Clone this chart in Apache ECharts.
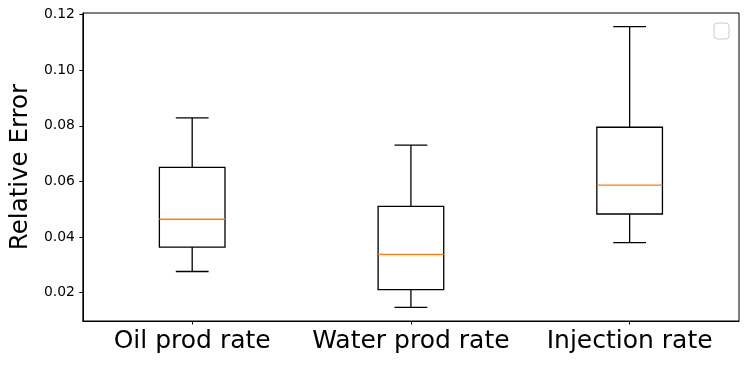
<!DOCTYPE html>
<html>
<head>
<meta charset="utf-8">
<script src="https://cdn.jsdelivr.net/npm/echarts@6/dist/echarts.min.js"></script>
<style>
  html, body { margin: 0; padding: 0; background: #fff; }
  #main { width: 749px; height: 365px; }
</style>
</head>
<body>
<div id="main"></div>
<script>
// categories and box statistics
const categories = ['Oil prod rate', 'Water prod rate', 'Injection rate'];
const whiskerLow = [0.0276, 0.0147, 0.0380];
const q1 = [0.0364, 0.0211, 0.0483];
const median = [0.0464, 0.0338, 0.0587];
const q3 = [0.0651, 0.0510, 0.0795];
const whiskerHigh = [0.0829, 0.0731, 0.1157];
const yTicks = [0.02, 0.04, 0.06, 0.08, 0.10, 0.12];

const font = 'DejaVu Sans';

let chart = echarts.init(document.getElementById('main'));

// one row per box: [index, low, q1, median, q3, high]
const boxData = categories.map((c, i) => [i, whiskerLow[i], q1[i], median[i], q3[i], whiskerHigh[i]]);

function renderBox(params, api) {
  const i = api.value(0);
  const pLow = api.coord([i, api.value(1)]);
  const pQ1 = api.coord([i, api.value(2)]);
  const pMed = api.coord([i, api.value(3)]);
  const pQ3 = api.coord([i, api.value(4)]);
  const pHigh = api.coord([i, api.value(5)]);
  const band = api.size([1, 0])[0];
  const half = band * 0.3 / 2;   // box width 0.3 of a category
  const cap = half / 2;           // caps half the box width
  const cx = pMed[0];
  const line = { stroke: '#000', lineWidth: 1.3 };
  return {
    type: 'group',
    children: [
      { type: 'line', shape: { x1: cx, y1: pQ1[1], x2: cx, y2: pLow[1] }, style: line },
      { type: 'line', shape: { x1: cx, y1: pQ3[1], x2: cx, y2: pHigh[1] }, style: line },
      { type: 'line', shape: { x1: cx - cap, y1: pLow[1], x2: cx + cap, y2: pLow[1] }, style: line },
      { type: 'line', shape: { x1: cx - cap, y1: pHigh[1], x2: cx + cap, y2: pHigh[1] }, style: line },
      { type: 'rect', shape: { x: cx - half, y: pQ3[1], width: half * 2, height: pQ1[1] - pQ3[1] },
        style: { fill: 'none', stroke: '#000', lineWidth: 1.3 } },
      { type: 'line', shape: { x1: cx - half, y1: pMed[1], x2: cx + half, y2: pMed[1] },
        style: { stroke: '#ff7f0e', lineWidth: 1.3 } }
    ]
  };
}

chart.setOption({
  animation: false,
  backgroundColor: '#fff',
  grid: {
    left: 80, right: 10, top: 13, bottom: 44,
    show: true, borderColor: '#000', borderWidth: 1
  },
  xAxis: {
    type: 'category',
    data: categories,
    boundaryGap: true,
    axisLine: { show: true, lineStyle: { color: '#000', width: 1 } },
    axisTick: { show: true, alignWithLabel: true, length: 3.5, lineStyle: { color: '#000' } },
    axisLabel: { color: '#000', fontSize: 25, fontFamily: font, margin: 8, interval: 0, hideOverlap: false },
    splitLine: { show: false }
  },
  yAxis: {
    type: 'value',
    min: 0.0098,
    max: 0.1206,
    name: 'Relative Error',
    nameLocation: 'middle',
    nameRotate: 90,
    nameGap: 45,
    nameTextStyle: { color: '#000', fontSize: 24.5, fontFamily: font },
    axisLine: { show: true, lineStyle: { color: '#000', width: 1 } },
    axisTick: { show: true, length: 3.5, customValues: yTicks, lineStyle: { color: '#000' } },
    axisLabel: {
      color: '#000', fontSize: 13.9, fontFamily: font, margin: 8,
      customValues: yTicks,
      formatter: v => v.toFixed(2)
    },
    splitLine: { show: false }
  },
  graphic: [
    {
      type: 'rect',
      shape: { x: 714, y: 23, width: 15, height: 16, r: 3 },
      style: { fill: '#fff', stroke: '#cccccc', lineWidth: 1 }
    }
  ],
  series: [
    {
      type: 'custom',
      renderItem: renderBox,
      encode: { x: 0, y: [1, 2, 3, 4, 5] },
      data: boxData
    }
  ]
});
</script>
</body>
</html>
